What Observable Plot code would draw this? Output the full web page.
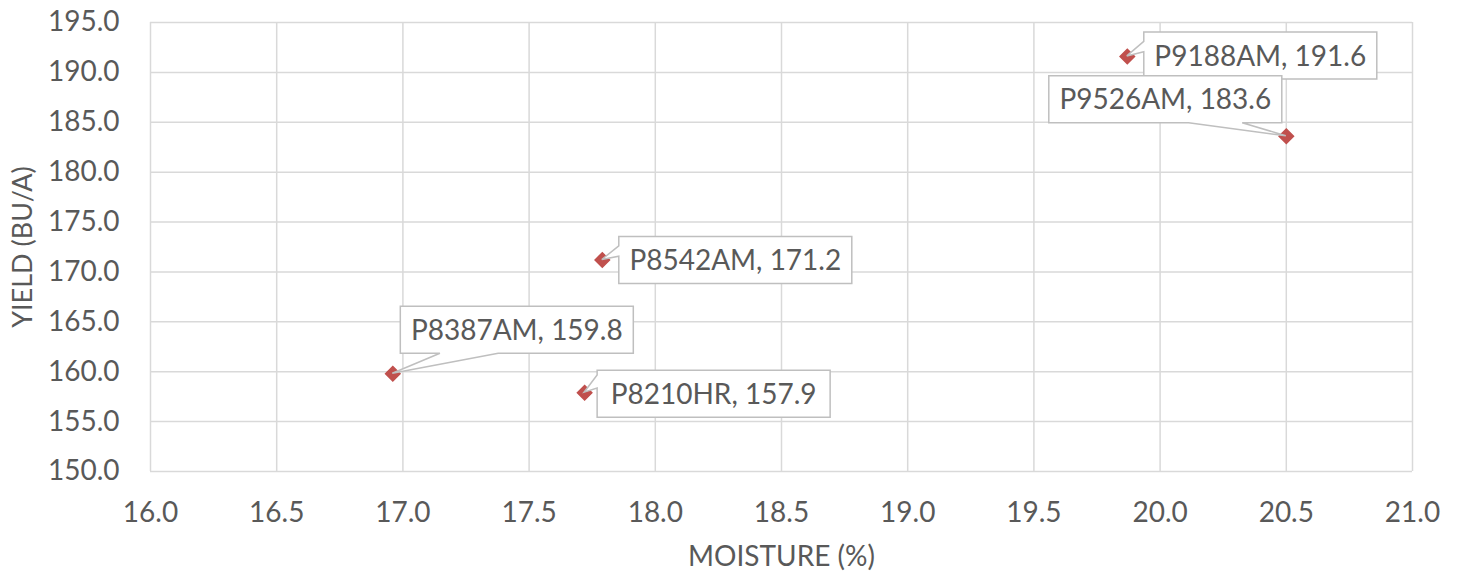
<!DOCTYPE html>
<html>
<head>
<meta charset="utf-8">
<script src="https://cdn.jsdelivr.net/npm/d3@7"></script>
<script src="https://cdn.jsdelivr.net/npm/@observablehq/plot@0.6"></script>
<style>
  html, body { margin: 0; padding: 0; background: #fff; }
</style>
</head>
<body>
<div id="chart"></div>
<script>
// ---- data ----
const hybrids  = ["P9188AM", "P9526AM", "P8542AM", "P8387AM", "P8210HR"];
const moisture = [19.87, 20.50, 17.79, 16.96, 17.72];
const yieldBu  = [191.6, 183.6, 171.2, 159.8, 157.9];
const xTicks = [16.0, 16.5, 17.0, 17.5, 18.0, 18.5, 19.0, 19.5, 20.0, 20.5, 21.0];
const yTicks = [150, 155, 160, 165, 170, 175, 180, 185, 190, 195];

// ---- callout layout (pixel offsets of box top-left from the point, side, wedge base fractions) ----
const calloutLayout = [
  {ox: 17,   oy: -24, side: "left",   f0: 0.20, f1: 0.42},
  {ox: -237, oy: -60, side: "bottom", f0: 0.60, f1: 0.83},
  {ox: 17,   oy: -23, side: "left",   f0: 0.20, f1: 0.42},
  {ox: 8,    oy: -67, side: "bottom", f0: 0.17, f1: 0.42},
  {ox: 13,   oy: -22, side: "left",   f0: 0.10, f1: 0.38}
];
const boxW = 233, boxH = 47;

const data = hybrids.map((h, i) => ({name: h, x: moisture[i], y: yieldBu[i], label: `${h}, ${yieldBu[i].toFixed(1)}`}));

const gridColor = "#D9D9D9";
const textColor = "#595959";
const font = "Lato, 'Open Sans', sans-serif";

function callouts(index, scales) {
  const sx = scales.x, sy = scales.y;
  const g = d3.create("svg:g");
  data.forEach((d, i) => {
    const L = calloutLayout[i];
    const px = sx(d.x), py = sy(d.y);
    const bx = px + L.ox, by = py + L.oy;
    let p;
    if (L.side === "bottom") {
      const b0 = bx + boxW * L.f0, b1 = bx + boxW * L.f1;
      p = `M${bx},${by}L${bx + boxW},${by}L${bx + boxW},${by + boxH}L${b1},${by + boxH}L${px},${py}L${b0},${by + boxH}L${bx},${by + boxH}Z`;
    } else {
      const b0 = by + boxH * L.f0, b1 = by + boxH * L.f1;
      p = `M${bx},${by}L${bx + boxW},${by}L${bx + boxW},${by + boxH}L${bx},${by + boxH}L${bx},${b1}L${px},${py}L${bx},${b0}Z`;
    }
    g.append("path").attr("d", p).attr("fill", "#fff").attr("stroke", "#BFBFBF").attr("stroke-width", 1.5);
    g.append("text")
      .attr("x", bx + boxW / 2).attr("y", by + boxH / 2)
      .attr("dy", "0.36em")
      .attr("text-anchor", "middle")
      .attr("fill", textColor)
      .attr("font-family", font)
      .attr("font-size", 28)
      .text(d.label);
  });
  return g.node();
}

const chart = Plot.plot({
  width: 1458,
  height: 573,
  marginLeft: 150,
  marginRight: 46,
  marginTop: 22,
  marginBottom: 102,
  style: {fontFamily: font, fontSize: "28px", color: textColor, background: "#fff"},
  x: {domain: [16, 21]},
  y: {domain: [150, 195]},
  marks: [
    Plot.gridX(xTicks, {stroke: gridColor, strokeOpacity: 1, strokeWidth: 1.5}),
    Plot.gridY(yTicks, {stroke: gridColor, strokeOpacity: 1, strokeWidth: 1.5}),
    Plot.axisX({ticks: xTicks, tickSize: 0, tickPadding: 31, tickFormat: d => d.toFixed(1), label: null, fill: textColor, fontSize: 28}),
    Plot.axisY({ticks: yTicks, tickSize: 0, tickPadding: 31, tickFormat: d => d.toFixed(1), label: null, fill: textColor, fontSize: 28}),
    Plot.text(["YIELD (BU/A)"], {frameAnchor: "left", text: d => d, rotate: -90, dx: -127, textAnchor: "middle", lineAnchor: "middle", fill: textColor, fontSize: 27}),
    Plot.text(["MOISTURE (%)"], {frameAnchor: "bottom", text: d => d, dy: 86, textAnchor: "middle", lineAnchor: "middle", fill: textColor, fontSize: 28}),
    Plot.dot(data, {x: "x", y: "y", symbol: "diamond2", r: 6.5, fill: "#C0504D", stroke: "#C0504D"}),
    callouts
  ]
});
document.getElementById("chart").appendChild(chart);
</script>
</body>
</html>
